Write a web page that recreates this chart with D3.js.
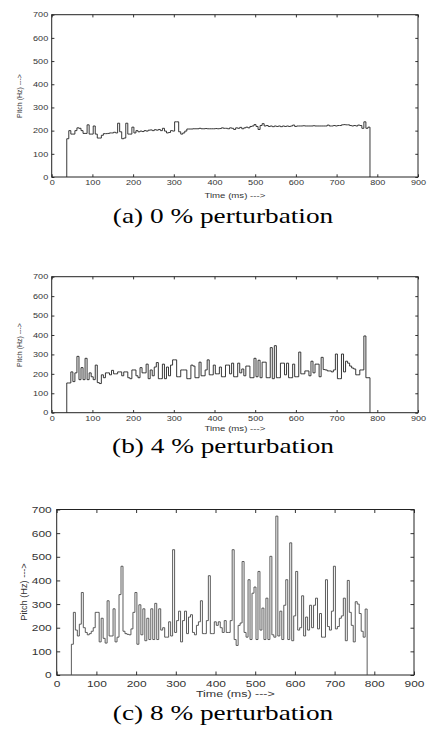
<!DOCTYPE html>
<html>
<head>
<meta charset="utf-8">
<script src="https://cdn.jsdelivr.net/npm/d3@7"></script>
<style>
  body { margin: 0; background: #fff; }
</style>
</head>
<body>
<div id="chart"></div>
<script>
// pitch track, one value per 5 ms frame starting at 37 ms
const frameMs = 5, startMs = 37;
const xTicks = [0, 100, 200, 300, 400, 500, 600, 700, 800, 900];
const yTicks = [0, 100, 200, 300, 400, 500, 600, 700];
const captions = ["(a) 0 % perturbation", "(b) 4 % perturbation", "(c) 8 % perturbation"];
const xLabel = "Time (ms) --->";
const yLabel = "Pitch (Hz) --->";

const pitch0 = [
  165, 200, 185, 185, 200, 212, 210, 200, 188, 188,
  225, 185, 185, 220, 185, 168, 168, 180, 187, 187,
  188, 190, 190, 193, 190, 232, 195, 165, 168, 232,
  185, 185, 215, 190, 200, 195, 198, 196, 200, 198,
  202, 203, 200, 204, 202, 205, 200, 210, 198, 190,
  192, 200, 198, 238, 238, 195, 185, 190, 198, 207,
  207, 207, 208, 208, 208, 210, 208, 208, 209, 208,
  208, 208, 208, 209, 208, 209, 212, 210, 210, 208,
  212, 210, 205, 212, 210, 214, 208, 212, 215, 212,
  218, 220, 226, 218, 205, 222, 230, 220, 222, 218,
  220, 217, 220, 218, 220, 217, 220, 218, 220, 218,
  220, 224, 218, 220, 220, 220, 221, 220, 220, 220,
  220, 221, 220, 220, 220, 220, 220, 220, 224, 220,
  220, 222, 220, 222, 222, 225, 226, 225, 225, 222,
  220, 222, 220, 224, 222, 210, 238, 210, 215
];
const pitch4 = [
  153, 153, 210, 160, 205, 290, 170, 232, 170, 280,
  170, 205, 185, 170, 245, 155, 150, 195, 180, 205,
  205, 195, 218, 200, 200, 210, 210, 190, 210, 210,
  180, 175, 220, 220, 190, 180, 232, 205, 205, 250,
  175, 220, 190, 235, 258, 175, 175, 250, 175, 235,
  190, 245, 272, 272, 185, 185, 220, 220, 220, 175,
  175, 245, 240, 180, 180, 260, 190, 190, 220, 272,
  195, 195, 245, 200, 200, 235, 185, 185, 245, 245,
  200, 255, 185, 185, 255, 205, 225, 190, 240, 240,
  180, 180, 280, 185, 270, 180, 260, 260, 180, 180,
  335, 175, 345, 180, 180, 255, 255, 195, 255, 180,
  180, 250, 185, 185, 312, 200, 200, 215, 215, 190,
  265, 205, 250, 250, 185, 285, 222, 220, 215, 215,
  210, 220, 302, 175, 175, 302, 210, 265, 255, 240,
  230, 225, 195, 195, 220, 220, 395, 180, 180
];
const pitch8 = [
  130, 265, 190, 165, 215, 349, 200, 180, 170, 175,
  185, 200, 265, 265, 140, 240, 155, 135, 314, 165,
  165, 280, 140, 160, 340, 460, 185, 175, 172, 170,
  195, 265, 349, 130, 297, 170, 280, 145, 240, 150,
  280, 150, 303, 150, 280, 190, 200, 160, 160, 225,
  165, 530, 180, 230, 270, 140, 230, 270, 175, 245,
  255, 180, 170, 210, 225, 314, 175, 175, 230, 420,
  175, 175, 225, 210, 225, 200, 180, 230, 180, 180,
  230, 530, 150, 125, 210, 220, 480, 180, 160, 403,
  150, 346, 372, 150, 438, 190, 283, 150, 325, 150,
  502, 170, 160, 672, 165, 270, 150, 295, 403, 150,
  559, 145, 250, 438, 190, 200, 335, 165, 245, 190,
  295, 200, 295, 325, 195, 260, 160, 160, 403, 205,
  190, 270, 460, 195, 205, 240, 250, 325, 145, 400,
  265, 210, 140, 310, 300, 260, 185, 160, 279
];

const width = 432, height = 729;
const stretch = 1.3; // the scanned figure is wider than tall

const panels = [
  {data: pitch0, left: 51.7, right: 418, top: 14.7, bottom: 177, font: 7, tick: 2.7, pad: 3.5,
   labX: 22, labY: 96, timeY: 198, capY: 223, stroke: "#222"},
  {data: pitch4, left: 51.7, right: 418, top: 276.7, bottom: 412.7, font: 7, tick: 2.7, pad: 3.5,
   labX: 22, labY: 345, timeY: 431, capY: 453, stroke: "#222"},
  {data: pitch8, left: 56.7, right: 414, top: 509.5, bottom: 675, font: 9.2, tick: 3.5, pad: 5,
   labX: 27, labY: 592, timeY: 697, capY: 720, stroke: "#4a4a4a"}
];

const svg = d3.select("#chart")
  .append("svg")
  .attr("width", width)
  .attr("height", height);

panels.forEach((p, k) => {
  const x = d3.scaleLinear().domain([0, 900]).range([p.left, p.right]);
  const y = d3.scaleLinear().domain([0, 700]).range([p.bottom, p.top]);
  const g = svg.append("g");

  // ticks on all four sides, pointing inward
  const axes = [
    {ax: d3.axisBottom(x).tickValues(xTicks), at: `translate(0,${p.bottom})`},
    {ax: d3.axisLeft(y).tickValues(yTicks), at: `translate(${p.left},0)`},
    {ax: d3.axisTop(x).tickValues(xTicks).tickFormat(""), at: `translate(0,${p.top})`},
    {ax: d3.axisRight(y).tickValues(yTicks).tickFormat(""), at: `translate(${p.right},0)`}
  ];
  axes.forEach((a, j) => {
    const ga = g.append("g")
      .attr("transform", a.at)
      .call(a.ax.tickSizeInner(-p.tick).tickSizeOuter(0).tickPadding(p.pad));
    ga.select(".domain").remove();
    ga.selectAll("line").attr("stroke", "#333");
    ga.selectAll("text")
      .attr("font-family", "'Liberation Sans', Arial, sans-serif")
      .attr("font-size", p.font)
      .attr("fill", "#333")
      .attr("transform", `scale(${stretch},1)`);
    if (j === 1) ga.selectAll("text").attr("x", -p.pad / stretch);
  });

  g.append("rect")
    .attr("x", p.left)
    .attr("y", p.top)
    .attr("width", p.right - p.left)
    .attr("height", p.bottom - p.top)
    .attr("fill", "none")
    .attr("stroke", "#222")
    .attr("stroke-width", 1);

  // stair line from 0 up to the track and back down to 0
  const pts = [[startMs, 0]].concat(p.data.map((v, i) => [startMs + i * frameMs, v]));
  const endMs = startMs + p.data.length * frameMs;
  pts.push([endMs, p.data[p.data.length - 1]], [endMs, 0]);

  const line = d3.line()
    .x(d => x(d[0]))
    .y(d => y(d[1]))
    .curve(d3.curveStepAfter);

  g.append("path")
    .datum(pts)
    .attr("fill", "none")
    .attr("stroke", p.stroke)
    .attr("stroke-width", 0.9)
    .attr("d", line);

  g.append("text")
    .attr("transform", `translate(${(p.left + p.right) / 2},${p.timeY}) scale(${stretch},1)`)
    .attr("text-anchor", "middle")
    .attr("font-family", "'Liberation Sans', Arial, sans-serif")
    .attr("font-size", p.font + 0.4)
    .attr("fill", "#333")
    .text(xLabel);

  g.append("text")
    .attr("transform", `translate(${p.labX},${p.labY}) rotate(-90)`)
    .attr("text-anchor", "middle")
    .attr("font-family", "'Liberation Sans', Arial, sans-serif")
    .attr("font-size", p.font)
    .attr("fill", "#333")
    .text(yLabel);

  svg.append("text")
    .attr("transform", `translate(223,${p.capY}) scale(1.24,1)`)
    .attr("text-anchor", "middle")
    .attr("font-family", "'Liberation Serif', 'Times New Roman', serif")
    .attr("font-size", 22)
    .attr("fill", "#000")
    .text(captions[k]);
});
</script>
</body>
</html>
